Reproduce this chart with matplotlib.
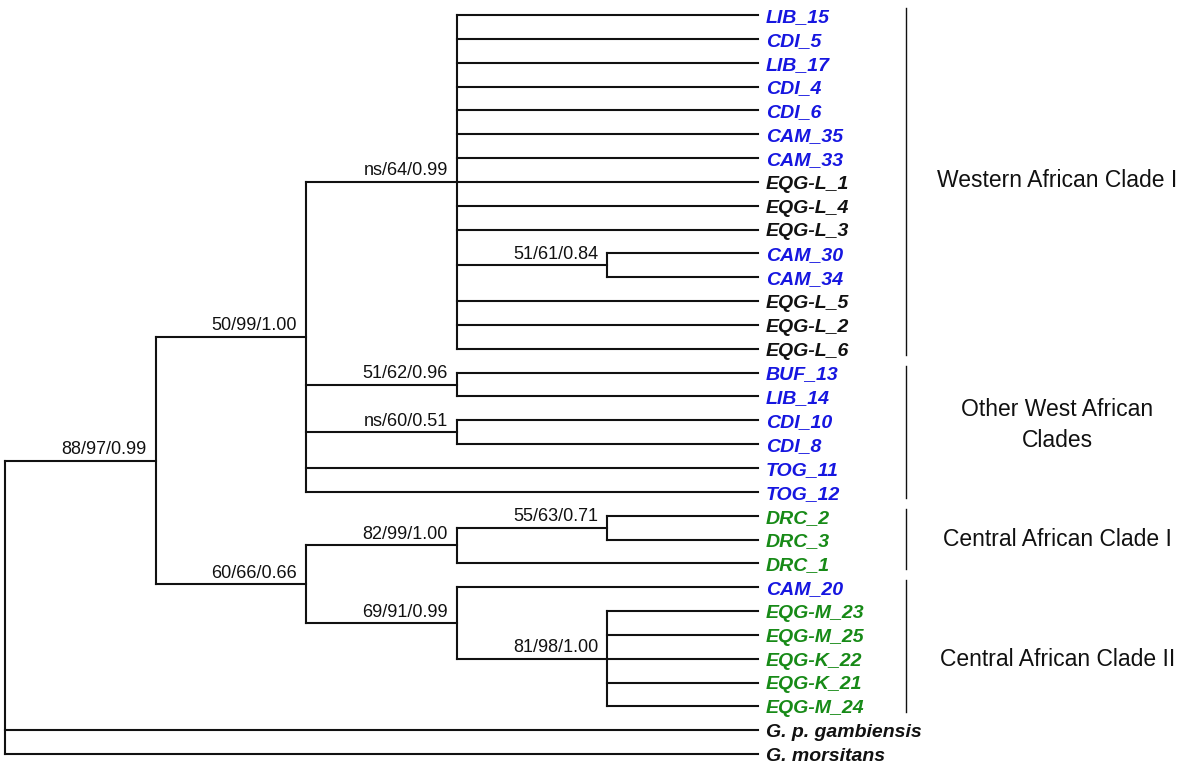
import matplotlib
matplotlib.use("Agg")
import matplotlib.pyplot as plt

# cladogram of isolates, support values as "MP/ML/BI"
western_clade = ["LIB_15", "CDI_5", "LIB_17", "CDI_4", "CDI_6", "CAM_35", "CAM_33",
                 "EQG-L_1", "EQG-L_4", "EQG-L_3",
                 ("51/61/0.84", ["CAM_30", "CAM_34"]),
                 "EQG-L_5", "EQG-L_2", "EQG-L_6"]
other_west = [("51/62/0.96", ["BUF_13", "LIB_14"]),
              ("ns/60/0.51", ["CDI_10", "CDI_8"]),
              "TOG_11", "TOG_12"]
central_1 = [("55/63/0.71", ["DRC_2", "DRC_3"]), "DRC_1"]
central_2 = ["CAM_20",
             ("81/98/1.00", ["EQG-M_23", "EQG-M_25", "EQG-K_22", "EQG-K_21", "EQG-M_24"])]

tree = (None, [
    ("88/97/0.99", [
        ("50/99/1.00", [("ns/64/0.99", western_clade)] + other_west),
        ("60/66/0.66", [("82/99/1.00", central_1), ("69/91/0.99", central_2)]),
    ]),
    "G. p. gambiensis",
    "G. morsitans",
])

# clade name, first leaf, last leaf, label row
clades = [
    ("Western African Clade I", "LIB_15", "EQG-L_6", 6.95),
    ("Other West African\nClades", "BUF_13", "TOG_12", 17.2),
    ("Central African Clade I", "DRC_2", "DRC_1", 22.0),
    ("Central African Clade II", "CAM_20", "EQG-M_24", 27.05),
]

BLUE = "#1616e0"
GREEN = "#178a17"
BLACK = "#111111"
prefix_colors = {"LIB": BLUE, "CDI": BLUE, "CAM": BLUE, "BUF": BLUE, "TOG": BLUE,
                 "DRC": GREEN, "EQG-M": GREEN, "EQG-K": GREEN}

plt.rcParams['font.family'] = ['Liberation Sans', 'DejaVu Sans']

MAX_DEPTH = 5
LW = 1.5

fig = plt.figure(figsize=(12, 7.76), dpi=100)
ax = fig.add_axes([0, 0, 1, 1])
ax.set_xlim(-0.0332, 7.935)
ax.set_ylim(31.92, -0.63)
ax.axis("off")

rows = []


def leaf_color(name):
    for p, c in prefix_colors.items():
        if name.startswith(p):
            return c
    return BLACK


def draw(node, depth):
    if isinstance(node, str):
        y = len(rows)
        rows.append(node)
        ax.text(MAX_DEPTH + 0.053, y + 0.29, node, color=leaf_color(node),
                fontsize=14, fontweight="bold", fontstyle="italic", va="baseline")
        return MAX_DEPTH, y
    support, children = node
    kids = [draw(c, depth + 1) for c in children]
    ys = [k[1] for k in kids]
    for kx, ky in kids:
        ax.plot([depth, kx], [ky, ky], color=BLACK, lw=LW, solid_capstyle="projecting")
    ax.plot([depth, depth], [min(ys), max(ys)], color=BLACK, lw=LW, solid_capstyle="projecting")
    y = (min(ys) + max(ys)) / 2
    if support:
        ax.text(depth - 0.06, y - 0.27, support, ha="right", va="baseline",
                fontsize=13, color=BLACK)
    return depth, y


draw(tree, 0)

bar_x = 5.983
for name, first, last, label_y in clades:
    y0 = rows.index(first) - 0.29
    y1 = rows.index(last) + 0.25
    ax.plot([bar_x, bar_x], [y0, y1], color=BLACK, lw=1.0)
    ax.text(6.989, label_y, name, ha="center", va="center", fontsize=16.5,
            color=BLACK, linespacing=1.42)

fig.savefig("out.png", dpi=100)
